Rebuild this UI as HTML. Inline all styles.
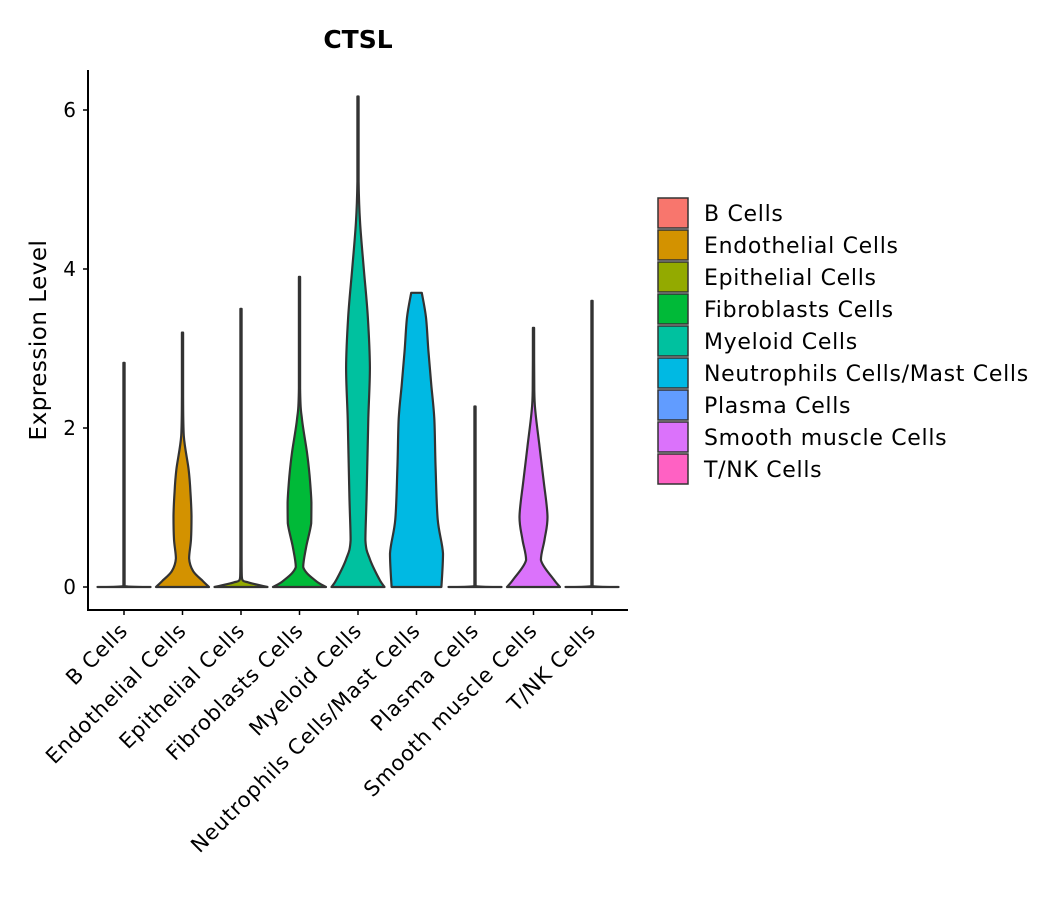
<!DOCTYPE html>
<html><head><meta charset="utf-8"><style>
html,body{margin:0;padding:0;background:#fff;}
svg text{font-family:"DejaVu Sans","Liberation Sans",sans-serif;}
</style></head><body>
<svg id="chart" width="1057" height="900" xmlns="http://www.w3.org/2000/svg">
<text x="358" y="48" text-anchor="middle" font-size="25" font-weight="bold">CTSL</text>
<text transform="translate(46,340) rotate(-90)" text-anchor="middle" font-size="23" letter-spacing="0.5">Expression Level</text>
<g id="plot"></g>
<g id="legend"></g>
</svg>
<script>
const categories = ["B Cells","Endothelial Cells","Epithelial Cells","Fibroblasts Cells","Myeloid Cells","Neutrophils Cells/Mast Cells","Plasma Cells","Smooth muscle Cells","T/NK Cells"];
const colors = ["#F8766D","#D39200","#93AA00","#00BA38","#00C19F","#00B9E3","#619CFF","#DB72FB","#FF61C3"];
const maxValues = [2.82,3.2,3.5,3.9,6.17,3.7,2.27,3.26,3.6];
// density profiles: [value, relative half-width]
const profB = [[0,1],[0.01,0.02]];
const profEndo = [[0,1],[0.08,0.75],[0.2,0.4],[0.36,0.25],[0.6,0.32],[0.89,0.34],[1.2,0.3],[1.48,0.23],[1.9,0.05],[2.4,0.02]];
const profEpi = [[0,1],[0.03,0.6],[0.06,0.25],[0.1,0.04],[0.4,0.02]];
const profFib = [[0,1],[0.08,0.6],[0.25,0.14],[0.5,0.25],[0.8,0.44],[1.06,0.45],[1.4,0.38],[1.7,0.28],[2.12,0.09],[2.5,0.02]];
const profMye = [[0,1],[0.1,0.8],[0.35,0.45],[0.59,0.28],[1.2,0.33],[2.12,0.39],[2.76,0.45],[3.4,0.37],[4.0,0.22],[4.58,0.08],[5.1,0.02]];
const profNeut = [[0,0.94],[0.42,1.0],[0.85,0.8],[1.5,0.72],[2.12,0.67],[2.54,0.56],[2.97,0.45],[3.39,0.36],[3.7,0.2]];
const profPla = [[0,1],[0.01,0.02]];
const profSmo = [[0,1],[0.1,0.75],[0.34,0.28],[0.6,0.42],[0.88,0.53],[1.34,0.38],[1.76,0.23],[2.18,0.08],[2.47,0.03]];
const profTNK = [[0,1],[0.01,0.02]];
const profiles = [profB,profEndo,profEpi,profFib,profMye,profNeut,profPla,profSmo,profTNK];
const yTicks = [0,2,4,6];

const NS="http://www.w3.org/2000/svg";
const plot=document.getElementById('plot');
const x0=124, dx=58.5, halfMax=26.5;
const xScale=i=>x0+i*dx;
const yScale=v=>587-v*79.5;
function mk(tag,attrs,parent){const e=document.createElementNS(NS,tag);for(const k in attrs)e.setAttribute(k,attrs[k]);parent.appendChild(e);return e;}
const clamp=(v,a,b)=>Math.min(Math.max(v,Math.min(a,b)),Math.max(a,b));
function smoothSide(pts){
  let d='';
  for(let k=0;k<pts.length-1;k++){
    const p0=pts[Math.max(k-1,0)],p1=pts[k],p2=pts[k+1],p3=pts[Math.min(k+2,pts.length-1)];
    const c1=[clamp(p1[0]+(p2[0]-p0[0])/6,p1[0],p2[0]),clamp(p1[1]+(p2[1]-p0[1])/6,p1[1],p2[1])];
    const c2=[clamp(p2[0]-(p3[0]-p1[0])/6,p1[0],p2[0]),clamp(p2[1]-(p3[1]-p1[1])/6,p1[1],p2[1])];
    d+=` C${c1[0].toFixed(1)},${c1[1].toFixed(1)} ${c2[0].toFixed(1)},${c2[1].toFixed(1)} ${p2[0].toFixed(1)},${p2[1].toFixed(1)}`;
  }
  return d;
}

categories.forEach((c,i)=>{
  let prof=profiles[i].slice();
  const last=prof[prof.length-1];
  if(last[0]<maxValues[i]) prof.push([maxValues[i], Math.min(last[1],0.02)]);
  const cx=xScale(i);
  const right=prof.map(p=>[cx+Math.max(p[1]*halfMax,0.6),yScale(p[0])]);
  const left=prof.slice().reverse().map(p=>[cx-Math.max(p[1]*halfMax,0.6),yScale(p[0])]);
  let d=`M${right[0][0].toFixed(1)},${right[0][1].toFixed(1)}`+smoothSide(right)+` L${left[0][0].toFixed(1)},${left[0][1].toFixed(1)}`+smoothSide(left)+' Z';
  const v=mk('path',{d:d,fill:colors[i],stroke:'#333','stroke-width':2.2,'stroke-linejoin':'round'},plot);
  
  
  const t=mk('text',{transform:`translate(${cx+5},632) rotate(-45)`,'text-anchor':'end','font-size':21,'letter-spacing':0.8,fill:'#000'},plot);
  t.textContent=c;
  
  
  const tk=mk('line',{x1:cx,x2:cx,y1:610,y2:615,stroke:'#000','stroke-width':1.5},plot);
  
  
});
yTicks.forEach(v=>{
  const y=yScale(v);
  const l=mk('line',{x1:83,x2:88,y1:y,y2:y,stroke:'#000','stroke-width':1.5},plot);
  
  
  const t=mk('text',{x:76,y:y+7,'text-anchor':'end','font-size':20},plot);
  t.textContent=v;
  
  
});
const ya=mk('line',{x1:88,x2:88,y1:70,y2:611,stroke:'#000','stroke-width':2},plot);


const xa=mk('line',{x1:87,x2:628,y1:610,y2:610,stroke:'#000','stroke-width':2},plot);



const lg=document.getElementById('legend');
categories.forEach((c,i)=>{
  const y=198+i*32;
  const r=mk('rect',{x:658,y:y,width:30,height:30,fill:colors[i],stroke:'#333','stroke-width':1.5},lg);
  
  
  const t=mk('text',{x:704,y:y+23,'font-size':22,'letter-spacing':0.7},lg);
  t.textContent=c;
  
  
});
</script>
</body></html>
